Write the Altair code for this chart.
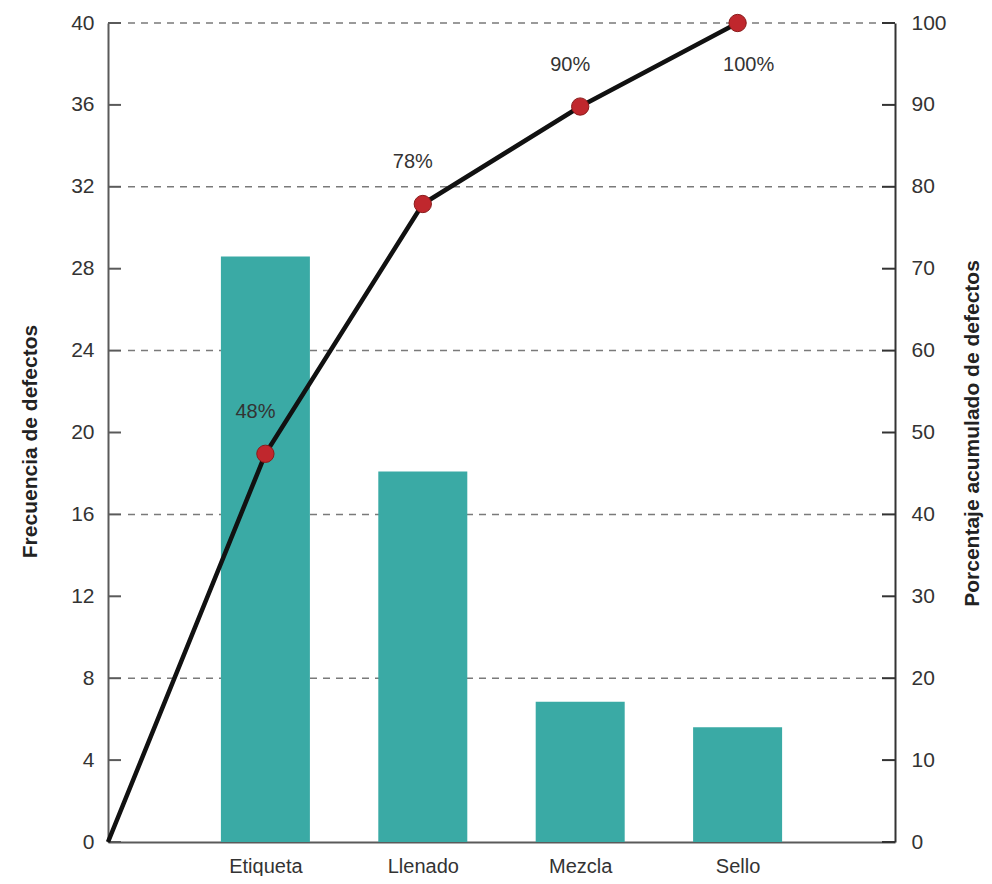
import altair as alt
import pandas as pd

# ---------------- data ----------------
categories = ["Etiqueta", "Llenado", "Mezcla", "Sello"]
category_pos = [1, 2, 3, 4]
frequencies = [28.6, 18.1, 6.85, 5.6]

cum_pos = [0, 1, 2, 3, 4]
cum_percent = [0, 47.4, 77.9, 89.8, 100]
cum_labels = ["", "48%", "78%", "90%", "100%"]

left_ticks = [0, 4, 8, 12, 16, 20, 24, 28, 32, 36, 40]
right_ticks = [0, 10, 20, 30, 40, 50, 60, 70, 80, 90, 100]
grid_values = [8, 16, 24, 32, 40]

# ---------------- style ----------------
W, H = 787, 819
FONT = "Liberation Sans, Arial, sans-serif"
AXIS_COLOR = "#5a5a5a"
TEXT_COLOR = "#333333"
BAR_COLOR = "#3aaaa5"
POINT_COLOR = "#c0272d"

bars_df = pd.DataFrame({"pos": category_pos, "cat": categories, "freq": frequencies})
cum_df = pd.DataFrame({"pos": cum_pos, "pct": cum_percent, "label": cum_labels})
lt_df = pd.DataFrame({"pos": [0] * len(left_ticks), "freq": left_ticks})
rt_df = pd.DataFrame({"pos": [0] * len(right_ticks), "pct": right_ticks})
grid_df = pd.DataFrame({"pos": [0] * len(grid_values), "freq": grid_values})

label_expr = "[" + ",".join(["''"] + [f"'{c}'" for c in categories]) + "][datum.value]"

x_scale = alt.Scale(domain=[0, 5], nice=False, zero=False, padding=0)
x_axis = alt.Axis(
    values=category_pos,
    labelExpr=label_expr,
    ticks=False,
    grid=False,
    domainColor=AXIS_COLOR,
    domainWidth=2,
    labelFontSize=20,
    labelPadding=14,
    labelColor=TEXT_COLOR,
    labelFont=FONT,
    title=None,
)


def X():
    return alt.X("pos:Q", scale=x_scale, axis=x_axis)


yl_scale = alt.Scale(domain=[0, 40], nice=False, zero=True)
yr_scale = alt.Scale(domain=[0, 100], nice=False, zero=True)

yl_axis = alt.Axis(
    orient="left",
    values=left_ticks,
    ticks=False,
    grid=False,
    labelPadding=14,
    labelFontSize=21,
    labelFont=FONT,
    labelColor=TEXT_COLOR,
    domainColor=AXIS_COLOR,
    domainWidth=2,
    title="Frecuencia de defectos",
    titleX=-78,
    titleY=418,
    titleAngle=270,
    titleAlign="center",
    titleBaseline="middle",
    titleFontSize=21,
    titleFontWeight="bold",
    titleFont=FONT,
    titleColor="#222222",
)

yr_axis = alt.Axis(
    orient="right",
    values=right_ticks,
    ticks=False,
    grid=False,
    labelPadding=16,
    labelFontSize=21,
    labelFont=FONT,
    labelColor=TEXT_COLOR,
    domainColor="#333333",
    domainWidth=2,
    title="Porcentaje acumulado de defectos",
    titleX=77,
    titleY=410,
    titleAngle=270,
    titleAlign="center",
    titleBaseline="middle",
    titleFontSize=21,
    titleFontWeight="bold",
    titleFont=FONT,
    titleColor="#222222",
)


def YL():
    return alt.Y("freq:Q", scale=yl_scale, axis=yl_axis)


def YR():
    return alt.Y("pct:Q", scale=yr_scale, axis=yr_axis)


# ---------- left (frequency) layers ----------
grid = alt.Chart(grid_df).mark_rule(
    color="#7a7a7a", strokeWidth=1.5, strokeDash=[7, 6]
).encode(
    x=alt.value(20),
    x2=alt.value(W - 12),
    y=YL(),
)

bars = alt.Chart(bars_df).mark_bar(size=89, color=BAR_COLOR).encode(
    x=X(),
    y=YL(),
)

lticks = alt.Chart(lt_df).mark_rule(color=AXIS_COLOR, strokeWidth=2).encode(
    x=alt.value(0),
    x2=alt.value(13),
    y=YL(),
)

left = alt.layer(grid, bars, lticks)

# ---------- right (cumulative %) layers ----------
line = alt.Chart(cum_df).mark_line(color="#111111", strokeWidth=4.5).encode(
    x=X(),
    y=YR(),
)

points = alt.Chart(cum_df).transform_filter("datum.pos > 0").mark_point(
    filled=True, size=300, color=POINT_COLOR, opacity=1, stroke="#8a1a1a", strokeWidth=1
).encode(
    x=X(),
    y=YR(),
)

labels_above = alt.Chart(cum_df).transform_filter(
    "datum.pos > 0 && datum.pct < 100"
).mark_text(dy=-42, dx=-10, fontSize=20, font=FONT, color=TEXT_COLOR).encode(
    x=X(),
    y=YR(),
    text="label:N",
)

labels_below = alt.Chart(cum_df).transform_filter(
    "datum.pct >= 100"
).mark_text(dy=42, dx=11, fontSize=20, font=FONT, color=TEXT_COLOR).encode(
    x=X(),
    y=YR(),
    text="label:N",
)

rticks = alt.Chart(rt_df).mark_rule(color="#333333", strokeWidth=2).encode(
    x=alt.value(W - 13),
    x2=alt.value(W),
    y=YR(),
)

right = alt.layer(line, points, labels_above, labels_below, rticks)

chart = (
    alt.layer(left, right)
    .resolve_scale(y="independent")
    .properties(
        width=W,
        height=H,
        padding={"left": 100, "top": 15, "right": 89, "bottom": 34},
        autosize=alt.AutoSizeParams(type="none"),
        background="white",
    )
    .configure_view(strokeWidth=0)
)

chart.save("out.html", embed_options={"renderer": "svg", "actions": False})
